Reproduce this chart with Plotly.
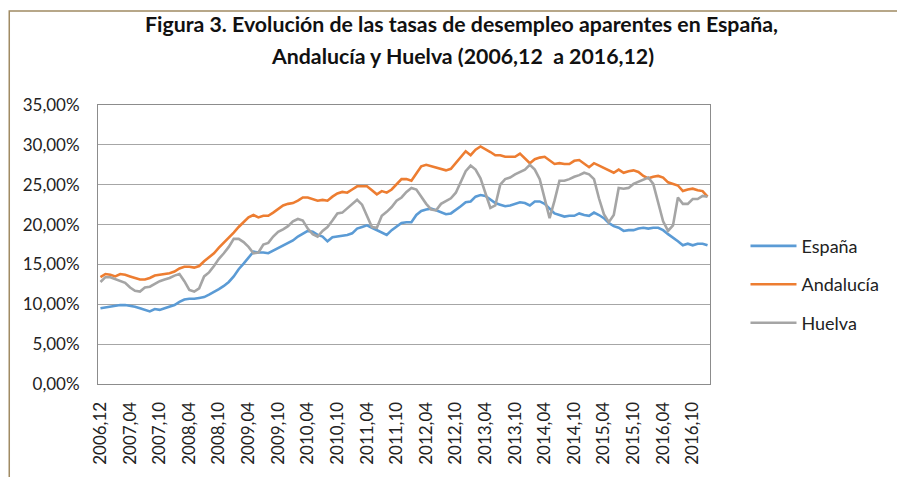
import plotly.graph_objects as go

# ---------------- data ----------------
tick_labels = ["2006,12", "2007,04", "2007,10", "2008,04", "2008,10", "2009,04",
               "2009,10", "2010,04", "2010,10", "2011,04", "2011,10", "2012,04",
               "2012,10", "2013,04", "2013,10", "2014,04", "2014,10", "2015,04",
               "2015,10", "2016,04", "2016,10"]

espana = [9.5, 9.6, 9.7, 9.8, 9.9, 9.9, 9.8, 9.7, 9.5, 9.3,
          9.1, 9.4, 9.3, 9.5, 9.7, 9.9, 10.3, 10.6, 10.7, 10.7,
          10.8, 10.9, 11.2, 11.5, 11.9, 12.3, 12.8, 13.5, 14.4, 15.1,
          15.9, 16.6, 16.5, 16.5, 16.4, 16.7, 17.1, 17.4, 17.6, 18.0,
          18.5, 18.9, 19.2, 19.1, 18.7, 18.5, 17.9, 18.4, 18.5, 18.6,
          18.7, 18.9, 19.5, 19.7, 19.9, 19.6, 19.3, 19.1, 18.7, 19.3,
          19.8, 20.2, 20.3, 20.3, 21.2, 21.7, 21.9, 22.0, 21.8, 21.5,
          21.3, 21.4, 21.8, 22.3, 22.8, 22.9, 23.5, 23.7, 23.6, 23.1,
          22.7, 22.5, 22.3, 22.4, 22.6, 22.8, 22.7, 22.4, 22.9, 22.9,
          22.6, 22.0, 21.4, 21.2, 21.0, 21.1, 21.1, 21.4, 21.2, 21.1,
          21.5, 21.2, 20.8, 20.2, 19.8, 19.6, 19.2, 19.3, 19.3, 19.5,
          19.6, 19.5, 19.6, 19.6, 19.3, 18.8, 18.4, 17.9, 17.4, 17.6,
          17.4, 17.6, 17.6, 17.4]

andalucia = [13.4, 13.8, 13.7, 13.5, 13.8, 13.7, 13.5, 13.3, 13.1, 13.1,
             13.3, 13.6, 13.7, 13.8, 13.9, 14.1, 14.5, 14.7, 14.7, 14.6,
             14.8, 15.4, 15.9, 16.4, 17.1, 17.7, 18.3, 19.0, 19.7, 20.3,
             20.9, 21.2, 20.9, 21.1, 21.1, 21.5, 22.0, 22.4, 22.6, 22.7,
             23.0, 23.4, 23.4, 23.2, 23.0, 23.1, 23.0, 23.5, 23.9, 24.1,
             24.0, 24.4, 24.8, 24.8, 24.8, 24.3, 23.8, 24.2, 24.0, 24.4,
             25.0, 25.7, 25.7, 25.5, 26.4, 27.3, 27.5, 27.3, 27.2, 27.0,
             26.8, 27.0, 27.7, 28.4, 29.2, 28.7, 29.4, 29.8, 29.5, 29.1,
             28.7, 28.7, 28.5, 28.5, 28.5, 28.9, 28.3, 27.7, 28.2, 28.4,
             28.5, 28.0, 27.6, 27.7, 27.6, 27.6, 28.0, 28.1, 27.7, 27.2,
             27.7, 27.4, 27.0, 26.7, 26.5, 26.9, 26.5, 26.7, 26.8, 26.6,
             26.1, 25.8, 26.0, 26.1, 25.9, 25.3, 25.1, 24.9, 24.2, 24.4,
             24.5, 24.3, 24.2, 23.5]

huelva = [12.8, 13.4, 13.4, 13.2, 12.9, 12.7, 12.1, 11.7, 11.6, 12.1,
          12.2, 12.6, 12.9, 13.1, 13.3, 13.6, 13.8, 12.9, 11.8, 11.6,
          12.0, 13.5, 14.0, 14.8, 15.7, 16.4, 17.2, 18.2, 18.2, 17.8,
          17.2, 16.4, 16.5, 17.5, 17.7, 18.5, 19.1, 19.4, 19.8, 20.4,
          20.7, 20.5, 19.5, 18.8, 18.5, 19.2, 19.7, 20.5, 21.4, 21.5,
          22.0, 22.5, 23.1, 22.5, 21.0, 19.7, 19.6, 21.1, 21.6, 22.2,
          23.0, 23.4, 24.1, 24.6, 24.4, 23.5, 22.6, 21.9, 21.8, 22.6,
          23.0, 23.3, 24.0, 25.3, 26.7, 27.4, 26.9, 25.8, 24.0, 22.1,
          22.4, 25.0, 25.7, 25.9, 26.3, 26.6, 26.9, 27.5, 26.9, 25.7,
          23.2, 20.8, 23.0, 25.5, 25.5, 25.7, 26.0, 26.2, 26.5, 26.3,
          25.7, 23.3, 21.3, 20.3, 21.2, 24.6, 24.5, 24.6, 25.1, 25.4,
          25.7, 25.9, 25.1, 22.8, 20.4, 19.2, 19.9, 23.4, 22.6, 22.6,
          23.2, 23.2, 23.6, 23.5]

series_names = ["España", "Andalucía", "Huelva"]
y_ticks = [0, 5, 10, 15, 20, 25, 30, 35]
label_step = 6

# ---------------- figure ----------------
FONT = "Lato, 'Open Sans', sans-serif"
colors = ["#5B9BD5", "#ED7D31", "#A5A5A5"]

n = len(espana)
x = list(range(n))

fig = go.Figure()
for i, (name, vals) in enumerate(zip(series_names, [espana, andalucia, huelva])):
    fig.add_trace(go.Scatter(
        x=x, y=vals, name=name, mode="lines",
        line=dict(color=colors[i], width=2.6),
        legendgroup=name,
    ))

ytext = [f"{v:.2f}".replace(".", ",") + "%" for v in y_ticks]
tickvals = list(range(0, n, label_step))[:len(tick_labels)]

fig.update_layout(
    width=897, height=477,
    margin=dict(l=98, r=171, t=105, b=90),
    paper_bgcolor="white", plot_bgcolor="white",
    font=dict(family=FONT, size=18, color="#222222"),
    showlegend=True,
    legend=dict(
        x=1.058, y=0.356, xanchor="left", yanchor="middle",
        font=dict(family=FONT, size=18, color="#222222"),
        itemwidth=46, tracegroupgap=12,
        bgcolor="rgba(0,0,0,0)",
    ),
    xaxis=dict(
        range=[-0.5, n - 0.5],
        tickmode="array", tickvals=tickvals, ticktext=tick_labels,
        tickangle=-90, showgrid=False, zeroline=False,
        showline=True, linecolor="#8C8C8C", linewidth=1, mirror=True,
        ticks="", ticklabelstandoff=10,
        tickfont=dict(family=FONT, size=17, color="#222222"),
    ),
    yaxis=dict(
        range=[0, 35],
        tickmode="array", tickvals=y_ticks, ticktext=ytext,
        showgrid=True, gridcolor="#A6A6A6", gridwidth=1,
        zeroline=False,
        showline=True, linecolor="#8C8C8C", linewidth=1, mirror=True,
        ticks="", ticklabelstandoff=14,
        tickfont=dict(family=FONT, size=17, color="#222222"),
    ),
)

# Title (two lines)
fig.add_annotation(text="<b>Figura 3. Evolución de las tasas de desempleo aparentes en España,</b>",
                   xref="paper", yref="paper", x=0.594, y=1.29, showarrow=False,
                   xanchor="center", yanchor="middle",
                   font=dict(family=FONT, size=21.3, color="#111111"))
fig.add_annotation(text="<b>Andalucía y Huelva (2006,12  a 2016,12)</b>",
                   xref="paper", yref="paper", x=0.596, y=1.177, showarrow=False,
                   xanchor="center", yanchor="middle",
                   font=dict(family=FONT, size=21.3, color="#111111"))

# outer chart frame (tan border, extends past the right/bottom edges)
fig.add_shape(type="rect", xref="paper", yref="paper",
              x0=-0.145, y0=-0.5, x1=1.4, y1=1.337,
              line=dict(color="#A08B63", width=1.5), fillcolor="rgba(0,0,0,0)",
              layer="below")

fig.write_html("out.html", config={"displayModeBar": False},
               post_script="document.body.style.margin='0px';")
